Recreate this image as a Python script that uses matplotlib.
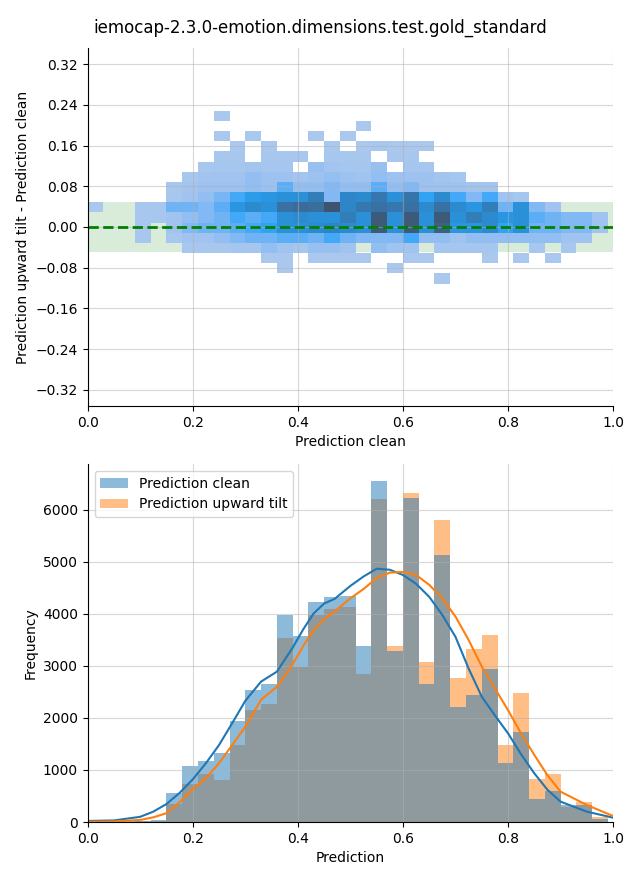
import numpy as np
import matplotlib
matplotlib.use("Agg")
import matplotlib.pyplot as plt
import matplotlib.patches as mpatches
import seaborn as sns

TITLE = "iemocap-2.3.0-emotion.dimensions.test.gold_standard"

# --- 2D histogram (difference vs clean) ------------------------------------
x_edges = np.round(np.arange(0, 34) * 0.03, 4)          # 0.00 .. 0.99
y_edges = np.round(-0.1114 + np.arange(0, 18) * 0.02, 4)  # -0.111 .. 0.229

# counts per cell, rows listed from top (highest y) to bottom, 33 columns
cell_counts = [
    [0,0,0,0,0,0,0,0,1,0,0,0,0,0,0,0,0,0,0,0,0,0,0,0,0,0,0,0,0,0,0,0,0],
    [0,0,0,0,0,0,0,0,0,0,0,0,0,0,0,0,0,1,0,0,0,0,0,0,0,0,0,0,0,0,0,0,0],
    [0,0,0,0,0,0,0,0,1,0,1,0,0,0,1,0,1,0,0,0,0,0,0,0,0,0,0,0,0,0,0,0,0],
    [0,0,0,0,0,0,0,0,0,1,0,1,0,0,0,1,0,1,2,1,1,1,0,0,0,0,0,0,0,0,0,0,0],
    [0,0,0,0,0,0,0,0,2,2,0,2,2,2,0,2,2,2,0,2,2,0,0,0,0,0,0,0,0,0,0,0,0],
    [0,0,0,0,0,0,0,2,3,3,4,3,3,0,8,4,3,3,8,0,3,3,0,0,0,0,0,0,0,0,0,0,0],
    [0,0,0,0,0,0,2,4,5,5,10,6,6,4,6,9,6,5,10,6,6,6,4,3,0,0,0,0,0,0,0,0,0],
    [0,0,0,0,0,2,4,6,6,6,10,7,25,10,10,15,10,10,25,10,15,6,6,6,4,4,0,0,0,0,0,0,0],
    [0,0,0,0,0,2,5,10,18,30,40,45,50,50,65,15,58,55,70,50,72,35,55,30,15,30,5,3,0,0,0,0,0],
    [1,0,0,2,2,20,20,15,25,45,55,50,75,80,78,100,58,70,75,70,75,55,75,55,45,65,20,50,15,5,0,0,0],
    [0,0,0,2,2,5,10,15,20,30,25,30,50,55,50,50,65,50,95,50,95,50,95,50,65,55,45,50,25,20,15,15,5],
    [0,0,0,2,0,5,15,20,20,25,30,35,50,50,55,60,55,50,95,50,95,50,90,45,45,55,35,50,20,20,15,15,5],
    [0,0,0,2,0,2,5,5,10,15,20,20,25,25,20,30,20,15,15,15,30,10,10,5,10,10,10,10,10,10,5,5,0],
    [0,0,0,0,0,0,2,2,2,3,3,10,5,3,8,8,5,0,10,5,5,0,3,3,3,3,0,0,2,0,2,0,0],
    [0,0,0,0,0,0,0,0,0,0,0,1,1,0,1,1,1,1,0,0,1,1,0,0,0,1,0,1,0,1,0,0,0],
    [0,0,0,0,0,0,0,0,0,0,0,0,1,0,0,0,0,0,0,1,0,0,0,0,0,0,0,0,0,0,0,0,0],
    [0,0,0,0,0,0,0,0,0,0,0,0,0,0,0,0,0,0,0,0,0,0,1,0,0,0,0,0,0,0,0,0,0],
]

# --- 1D histograms ----------------------------------------------------------
hist_edges = np.round(np.arange(0, 34) * 0.03, 4)
clean_counts = [10, 5, 10, 15, 40, 550, 1075, 1170, 1325, 1940, 2530, 2660,
                3980, 3575, 4230, 4330, 4345, 3385, 6555, 3290, 6230, 2655,
                5135, 2210, 2440, 2940, 1135, 1730, 440, 595, 325, 325, 60]
tilt_counts = [5, 5, 5, 10, 10, 345, 730, 925, 810, 1480, 2155, 2270,
               3540, 2985, 3980, 4095, 4140, 2845, 6210, 3385, 6325, 3075,
               5810, 2770, 3325, 3595, 1480, 2480, 825, 925, 290, 385, 100]

# density curves (count scale)
kde_x = [0.0, 0.05, 0.1, 0.125, 0.15, 0.175, 0.2, 0.225, 0.25, 0.275, 0.3,
         0.33, 0.36, 0.39, 0.41, 0.43, 0.45, 0.47, 0.5, 0.525, 0.55, 0.575,
         0.6, 0.625, 0.65, 0.675, 0.7, 0.725, 0.75, 0.775, 0.8, 0.825, 0.85,
         0.875, 0.9, 0.95, 1.0]
kde_clean = [20, 30, 100, 200, 346, 560, 820, 1130, 1480, 1900, 2330,
             2700, 2890, 3350, 3700, 4010, 4200, 4290, 4540, 4720, 4870, 4850,
             4750, 4580, 4330, 3980, 3560, 2950, 2410, 2050, 1705, 1300, 936,
             620, 391, 199, 83]
kde_tilt = [5, 10, 40, 90, 170, 380, 630, 840, 1130, 1480, 1830,
            2350, 2600, 3030, 3380, 3690, 3900, 4050, 4300, 4480, 4690, 4795,
            4808, 4750, 4560, 4300, 3950, 3500, 2990, 2570, 2150, 1700, 1290,
            900, 583, 327, 115]

BLUE = "#1f77b4"
ORANGE = "#ff7f0e"

fig = plt.figure(figsize=(6.4, 8.8), dpi=100)
fig.suptitle(TITLE, fontsize=12, y=0.979)

# ---------------------------------------------------------------- top panel
ax1 = fig.add_axes([0.137, 0.5386, 0.821, 0.4069])
ax1.axhspan(-0.05, 0.05, color="green", alpha=0.15, lw=0)

counts = np.array(cell_counts[::-1], dtype=float)   # bottom row first
xc = (x_edges[:-1] + x_edges[1:]) / 2
yc = (y_edges[:-1] + y_edges[1:]) / 2
gx, gy = np.meshgrid(xc, yc)
keep = counts > 0
sns.histplot(x=gx[keep], y=gy[keep], weights=counts[keep],
             bins=[x_edges, y_edges], ax=ax1)
ax1.axhline(0, color="green", ls="--", lw=2)

ax1.set_xlim(0, 1)
ax1.set_ylim(-0.352, 0.352)
ax1.set_yticks(np.round(np.arange(-0.32, 0.33, 0.08), 2))
ax1.set_xticks([0, 0.2, 0.4, 0.6, 0.8, 1.0])
ax1.grid(True, color="#b0b0b0", alpha=0.5)
ax1.set_xlabel("Prediction clean")
ax1.set_ylabel("Prediction upward tilt - Prediction clean")
ax1.spines[["top", "right"]].set_visible(False)

# ------------------------------------------------------------- bottom panel
ax2 = fig.add_axes([0.137, 0.0659, 0.821, 0.4068])
widths = np.diff(hist_edges)
ax2.bar(hist_edges[:-1], tilt_counts, width=widths, align="edge",
        color=ORANGE, alpha=0.5, lw=0)
ax2.bar(hist_edges[:-1], clean_counts, width=widths, align="edge",
        color=BLUE, alpha=0.5, lw=0)
ax2.plot(kde_x, kde_clean, color=BLUE, lw=1.5)
ax2.plot(kde_x, kde_tilt, color=ORANGE, lw=1.5)

ax2.set_xlim(0, 1)
ax2.set_ylim(0, max(clean_counts + tilt_counts) * 1.05)
ax2.set_xticks([0, 0.2, 0.4, 0.6, 0.8, 1.0])
ax2.grid(True, color="#b0b0b0", alpha=0.5)
ax2.set_xlabel("Prediction")
ax2.set_ylabel("Frequency")
ax2.spines[["top", "right"]].set_visible(False)

handles = [mpatches.Patch(color=BLUE, alpha=0.5, lw=0, label="Prediction clean"),
           mpatches.Patch(color=ORANGE, alpha=0.5, lw=0, label="Prediction upward tilt")]
ax2.legend(handles=handles, loc="upper left")

fig.savefig("out.png", dpi=100)
